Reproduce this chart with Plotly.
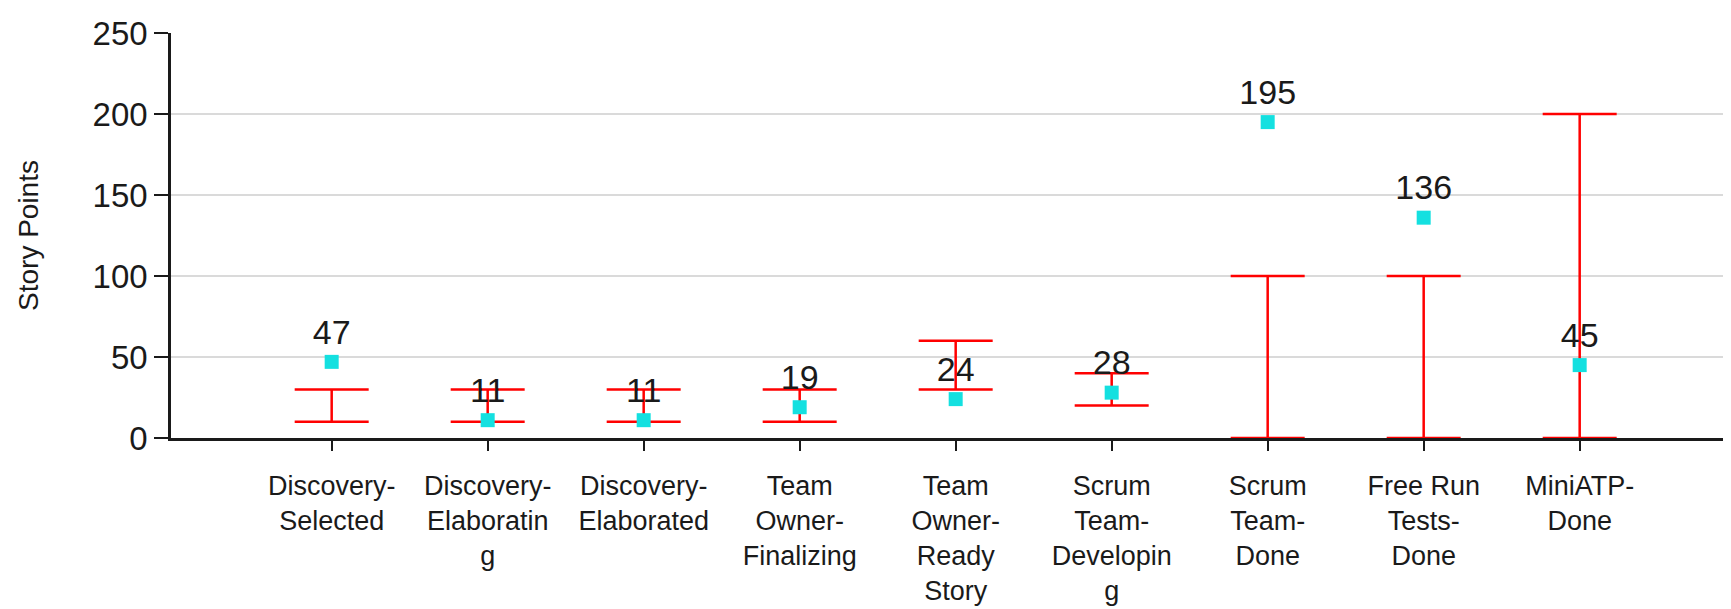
import plotly.graph_objects as go

# stage names as they wrap in the original chart
stages = [
    "Discovery-<br>Selected",
    "Discovery-<br>Elaboratin<br>g",
    "Discovery-<br>Elaborated",
    "Team<br>Owner-<br>Finalizing",
    "Team<br>Owner-<br>Ready<br>Story",
    "Scrum<br>Team-<br>Developin<br>g",
    "Scrum<br>Team-<br>Done",
    "Free Run<br>Tests-<br>Done",
    "MiniATP-<br>Done",
]
story_points = [47, 11, 11, 19, 24, 28, 195, 136, 45]
limit_low = [10, 10, 10, 10, 30, 20, 0, 0, 0]
limit_high = [30, 30, 30, 30, 60, 40, 100, 100, 200]

FONT = "Liberation Sans, Arial, sans-serif"

mid = [(lo + hi) / 2 for lo, hi in zip(limit_low, limit_high)]
half = [(hi - lo) / 2 for lo, hi in zip(limit_low, limit_high)]

fig = go.Figure()

# red limit bars (min / max range per stage)
fig.add_trace(go.Scatter(
    x=stages, y=mid,
    mode="markers",
    marker=dict(color="rgba(0,0,0,0)", size=1),
    error_y=dict(type="data", array=half, symmetric=True,
                 color="#FF0000", thickness=2.5, width=37),
    hoverinfo="skip",
    showlegend=False,
))

# cyan actual values with labels
fig.add_trace(go.Scatter(
    x=stages, y=story_points,
    mode="markers+text",
    marker=dict(symbol="square", color="#14E0E0", size=14),
    text=[str(v) for v in story_points],
    textposition="top center",
    textfont=dict(family=FONT, size=34, color="#1a1a1a"),
    showlegend=False,
))

# page body has an 8px margin, so the figure is sized/offset to compensate
fig.update_layout(
    width=1723, height=601,
    margin=dict(l=163, r=0, t=25, b=171),
    paper_bgcolor="white",
    plot_bgcolor="white",
    font=dict(family=FONT, color="#1a1a1a"),
    xaxis=dict(
        type="category",
        range=[-1.03, 8.97],
        automargin=False,
        showgrid=False,
        showline=True, linecolor="#1a1a1a", linewidth=2.5,
        ticks="outside", ticklen=10, tickwidth=2, tickcolor="#1a1a1a",
        tickfont=dict(family=FONT, size=27),
        ticklabelstandoff=12,
    ),
    yaxis=dict(
        range=[0, 250],
        automargin=False,
        tickvals=[0, 50, 100, 150, 200, 250],
        showgrid=True, gridcolor="#DADADA", gridwidth=2,
        showline=True, linecolor="#1a1a1a", linewidth=2.5,
        ticks="outside", ticklen=14, tickwidth=2, tickcolor="#1a1a1a",
        tickfont=dict(family=FONT, size=33),
        zeroline=False,
        title=dict(text="Story Points", font=dict(family=FONT, size=28), standoff=46),
    ),
)

fig.write_html("out.html")
